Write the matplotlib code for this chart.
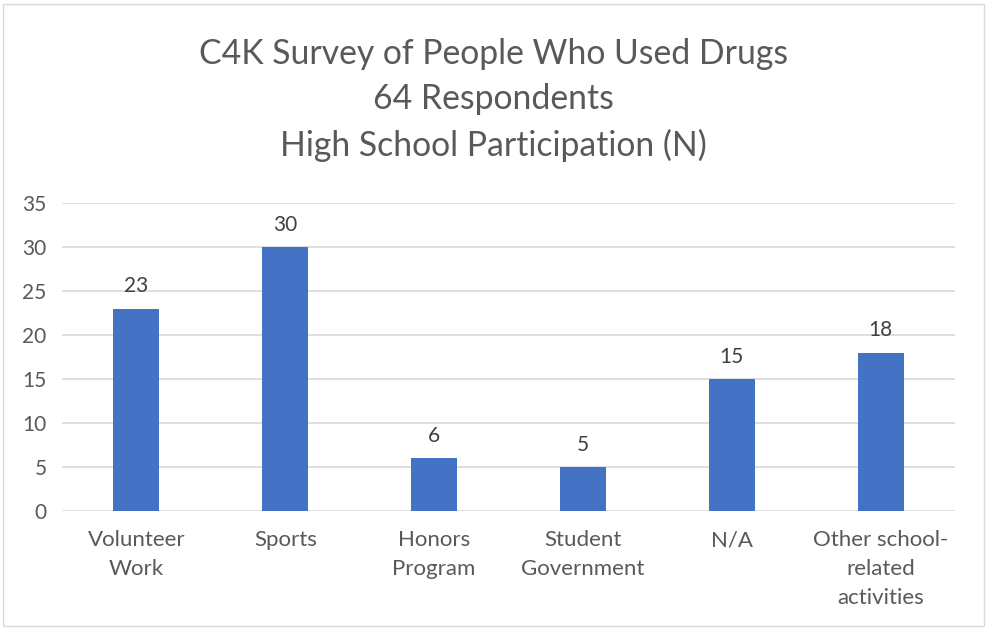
import matplotlib.pyplot as plt
from matplotlib.patches import Rectangle

categories = ["Volunteer\nWork", "Sports", "Honors\nProgram", "Student\nGovernment",
              "N/A", "Other school-\nrelated\nactivities"]
counts = [23, 30, 6, 5, 15, 18]
title = "C4K Survey of People Who Used Drugs\n64 Respondents\nHigh School Participation (N)"

grey = "#595959"
plt.rcParams['font.family'] = ['Lato', 'DejaVu Sans']

fig = plt.figure(figsize=(9.87, 6.28), dpi=100)
ax = fig.add_axes([62 / 987, 1 - 511 / 628, (955 - 62) / 987, (511 - 203) / 628])

x = range(len(categories))
bars = ax.bar(x, counts, width=0.31, color="#4472C4", zorder=3)
for b, v in zip(bars, counts):
    ax.text(b.get_x() + b.get_width() / 2, v + 1.4, str(v), ha="center", va="bottom",
            fontsize=15, color="#404040")

ax.set_xlim(-0.5, len(categories) - 0.5)
ax.set_ylim(0, 35)
ax.set_yticks(range(0, 36, 5))
ax.set_xticks(list(x))
ax.set_xticklabels(categories, fontsize=16, color=grey, linespacing=1.55)
ax.tick_params(axis="y", labelsize=15, labelcolor=grey, length=0, pad=11)
ax.tick_params(axis="x", length=0, pad=14)
ax.grid(axis="y", color="#d9d9d9", linewidth=1.2, zorder=0)
for s in ax.spines.values():
    s.set_visible(False)

fig.text(0.5, 1 - 100 / 628, title, ha="center", va="center", fontsize=24.3,
         color=grey, linespacing=1.52)

fig.patches.append(Rectangle((3 / 987, 2 / 628), 981 / 987, 622 / 628, transform=fig.transFigure,
                             fill=False, edgecolor="#d9d9d9", linewidth=1))

fig.savefig("out.png", dpi=100)
